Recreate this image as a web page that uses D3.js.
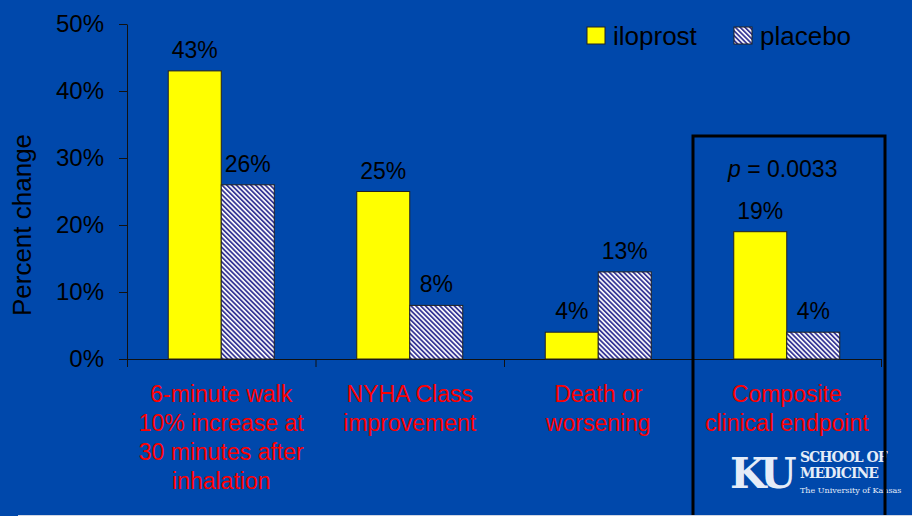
<!DOCTYPE html>
<html>
<head>
<meta charset="utf-8">
<script src="https://cdn.jsdelivr.net/npm/d3@7"></script>
<style>
  html, body { margin: 0; padding: 0; background: #0048ab; }
  svg { display: block; font-family: "Liberation Sans", Arial, sans-serif; }
</style>
</head>
<body>
<div id="chart"></div>
<script>
var categories = [
  ["6-minute walk", "10% increase at", "30 minutes after", "inhalation"],
  ["NYHA Class", "improvement"],
  ["Death or", "worsening"],
  ["Composite", "clinical endpoint"]
];
var series = ["iloprost", "placebo"];
var iloprost = [43, 25, 4, 19];
var placebo = [26, 8, 13, 4];
var yTicks = [0, 10, 20, 30, 40, 50];

var fullWidth = 912, fullHeight = 516;
var plot = {left: 127, right: 881, top: 24, bottom: 359};

var svg = d3.select("#chart").append("svg")
  .attr("width", fullWidth).attr("height", fullHeight);

svg.append("rect").attr("width", fullWidth).attr("height", fullHeight).attr("fill", "#0048ab");

// hatch for placebo
var defs = svg.append("defs");
var pat = defs.append("pattern")
  .attr("id", "hatch")
  .attr("patternUnits", "userSpaceOnUse")
  .attr("width", 3.4).attr("height", 3.4)
  .attr("patternTransform", "rotate(-45)");
pat.append("rect").attr("width", 3.4).attr("height", 3.4).attr("fill", "#ffffff");
pat.append("rect").attr("width", 1.8).attr("height", 3.4).attr("fill", "#383896");

var color = { iloprost: "#ffff00", placebo: "url(#hatch)" };

var x0 = d3.scaleBand().domain(d3.range(categories.length)).range([plot.left, plot.right]);
var groupW = 106;
var x1 = d3.scaleBand().domain(series)
  .range([(x0.bandwidth() - groupW) / 2, (x0.bandwidth() + groupW) / 2]);
var y = d3.scaleLinear().domain([0, 50]).range([plot.bottom, plot.top]);

// y axis
var yAxis = d3.axisLeft(y).tickValues(yTicks).tickFormat(function(d){ return d + "%"; })
  .tickSize(8).tickSizeOuter(0).tickPadding(15);
var gy = svg.append("g").attr("transform", "translate(" + plot.left + ",0)").call(yAxis);
gy.selectAll("text").attr("font-size", 24).attr("fill", "#000")
  .attr("font-family", "Liberation Sans, Arial, sans-serif");
gy.selectAll("line, path").attr("stroke", "#111");

// x axis, ticks at category boundaries
var xb = d3.scaleLinear().domain([0, categories.length]).range([plot.left, plot.right]);
var xAxis = d3.axisBottom(xb).ticks(categories.length).tickFormat("").tickSize(8).tickSizeOuter(0);
var gx = svg.append("g").attr("transform", "translate(0," + plot.bottom + ")").call(xAxis);
gx.selectAll("line, path").attr("stroke", "#111");

svg.append("text")
  .attr("transform", "translate(31,225) rotate(-90)")
  .attr("text-anchor", "middle")
  .attr("font-size", 26)
  .attr("fill", "#000")
  .text("Percent change");

var rows = categories.map(function(c, i){ return { i: i, iloprost: iloprost[i], placebo: placebo[i] }; });

var groups = svg.selectAll(".grp").data(rows).enter().append("g")
  .attr("transform", function(d){ return "translate(" + x0(d.i) + ",0)"; });

groups.selectAll("rect").data(function(d){
    return series.map(function(s){ return { key: s, value: d[s] }; });
  }).enter().append("rect")
  .attr("x", function(d){ return x1(d.key); })
  .attr("y", function(d){ return y(d.value); })
  .attr("width", x1.bandwidth())
  .attr("height", function(d){ return plot.bottom - y(d.value); })
  .attr("fill", function(d){ return color[d.key]; })
  .attr("stroke", "#222")
  .attr("stroke-width", 1);

groups.selectAll(".val").data(function(d){
    return series.map(function(s){ return { key: s, value: d[s] }; });
  }).enter().append("text")
  .attr("x", function(d){ return x1(d.key) + x1.bandwidth() / 2; })
  .attr("y", function(d){ return y(d.value) - 13; })
  .attr("text-anchor", "middle")
  .attr("font-size", 23)
  .attr("fill", "#000")
  .text(function(d){ return d.value + "%"; });

// category labels
groups.append("text")
  .attr("text-anchor", "middle")
  .attr("font-size", 23)
  .attr("fill", "#ff0000")
  .each(function(d){
    var t = d3.select(this);
    categories[d.i].forEach(function(line, k){
      t.append("tspan").attr("x", x0.bandwidth() / 2).attr("y", 402 + k * 29).text(line);
    });
  });

// p value
var pt = svg.append("text")
  .attr("x", x0(3) + x0.bandwidth() / 2 - 4)
  .attr("y", 177)
  .attr("text-anchor", "middle")
  .attr("font-size", 23)
  .attr("fill", "#000");
pt.append("tspan").attr("font-style", "italic").text("p");
pt.append("tspan").text(" = 0.0033");

// legend
var legend = svg.append("g");
var legendX = [587, 734];
series.forEach(function(s, i){
  legend.append("rect").attr("x", legendX[i]).attr("y", 27).attr("width", 18).attr("height", 17)
    .attr("fill", color[s]).attr("stroke", "#222");
  legend.append("text").attr("x", legendX[i] + 26).attr("y", 45)
    .attr("font-size", 26).attr("fill", "#000").text(s);
});

// KU logo (as text)
var logo = svg.append("g").attr("fill", "#e4ecf8").attr("font-family", "DejaVu Serif, serif").attr("font-weight", "bold");
logo.append("text").attr("x", 730).attr("y", 488).attr("font-size", 42).attr("letter-spacing", -5).text("KU");
logo.append("text").attr("x", 800).attr("y", 462).attr("font-size", 14).attr("letter-spacing", -1).text("SCHOOL OF");
logo.append("text").attr("x", 800).attr("y", 478).attr("font-size", 14).attr("letter-spacing", -1).text("MEDICINE");
logo.append("text").attr("x", 800).attr("y", 493).attr("font-size", 8).attr("font-weight", "normal").text("The University of Kansas");

// highlight box around the composite endpoint
svg.append("rect")
  .attr("x", 693).attr("y", 136).attr("width", 192).attr("height", 400)
  .attr("fill", "none").attr("stroke", "#000").attr("stroke-width", 3);

// thin light line at the bottom edge
svg.append("line").attr("x1", 18).attr("x2", fullWidth).attr("y1", 515.5).attr("y2", 515.5)
  .attr("stroke", "#cfd6e4").attr("stroke-width", 1);
</script>
</body>
</html>
